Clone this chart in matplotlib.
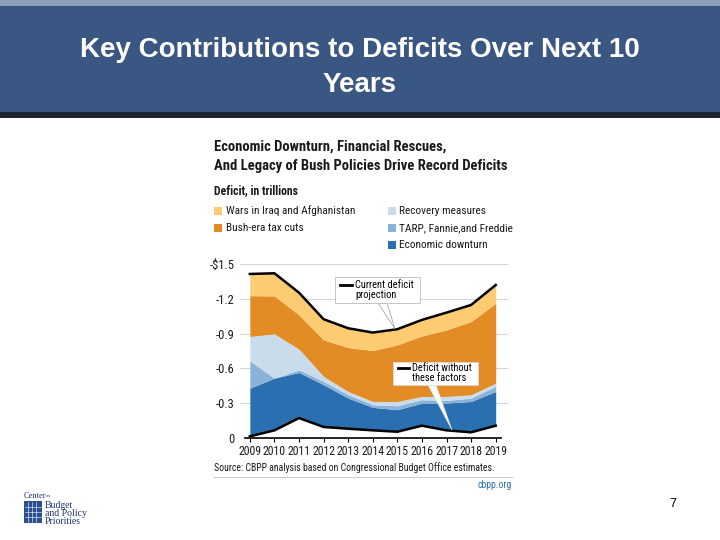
import matplotlib
matplotlib.use("Agg")
import numpy as np
from matplotlib import pyplot as plt
from matplotlib.patches import Rectangle, Polygon
from matplotlib.lines import Line2D

# deficit in trillions (shown as negative on the chart), cumulative layer edges
years = [2009, 2010, 2011, 2012, 2013, 2014, 2015, 2016, 2017, 2018, 2019]
without_factors = [0.014, 0.066, 0.172, 0.095, 0.080, 0.066, 0.054, 0.106, 0.066, 0.049, 0.106]
top_downturn = [0.430, 0.516, 0.565, 0.459, 0.344, 0.264, 0.244, 0.301, 0.301, 0.315, 0.401]
top_tarp = [0.665, 0.516, 0.588, 0.488, 0.373, 0.287, 0.278, 0.330, 0.324, 0.344, 0.445]
top_recovery = [0.875, 0.898, 0.766, 0.531, 0.401, 0.315, 0.315, 0.358, 0.358, 0.373, 0.473]
top_taxcuts = [1.227, 1.225, 1.061, 0.846, 0.780, 0.754, 0.803, 0.880, 0.932, 1.004, 1.161]
current_projection = [1.414, 1.420, 1.253, 1.024, 0.946, 0.909, 0.938, 1.018, 1.081, 1.147, 1.319]

y_ticks = [0, 0.3, 0.6, 0.9, 1.2, 1.5]
y_labels = ["0", "-0.3", "-0.6", "-0.9", "-1.2", "-$1.5"]

legend_left = ["Wars in Iraq and Afghanistan", "Bush-era tax cuts"]
legend_right = ["Recovery measures", "TARP, Fannie,and Freddie", "Economic downturn"]

c_wars = "#FDCB72"
c_tax = "#E38B25"
c_recovery = "#CADCEC"
c_tarp = "#89B3D8"
c_downturn = "#2A70B1"

NARROW = ["Roboto Condensed", "DejaVu Sans"]
W, H = 720, 540

fig = plt.figure(figsize=(7.2, 5.4), dpi=100)
fig.patch.set_facecolor("white")


def px(x, y):
    # pixel position (top-left origin) -> figure fraction
    return x / W, 1 - y / H


# header bar
fig.patches.append(Rectangle(px(0, 118), 1, 118 / H, transform=fig.transFigure,
                             facecolor="#1B2535", edgecolor="none", zorder=0))
fig.patches.append(Rectangle(px(0, 112), 1, 112 / H, transform=fig.transFigure,
                             facecolor="#3A5683", edgecolor="none", zorder=0))
fig.patches.append(Rectangle(px(0, 6), 1, 6 / H, transform=fig.transFigure,
                             facecolor="#8C9EB9", edgecolor="none", zorder=0))
fig.text(*px(360, 50), "Key Contributions to Deficits Over Next 10", color="white",
         fontsize=20, fontweight="bold", family="Liberation Sans", ha="center", va="center")
fig.text(*px(360, 85), "Years", color="white",
         fontsize=20, fontweight="bold", family="Liberation Sans", ha="center", va="center")

# chart heading and legend
fig.text(*px(214, 147), "Economic Downturn, Financial Rescues,", fontsize=10.5, fontweight="bold",
         family=NARROW, color="#1A1A1A", va="center")
fig.text(*px(214, 166), "And Legacy of Bush Policies Drive Record Deficits", fontsize=10.5,
         fontweight="bold", family=NARROW, color="#1A1A1A", va="center")
fig.text(*px(214, 191), "Deficit, in trillions", fontsize=8.5, fontweight="bold",
         family=NARROW, color="#1A1A1A", va="center")

for i, (lab, col) in enumerate(zip(legend_left, [c_wars, c_tax])):
    y = 211 + 17 * i
    fig.patches.append(Rectangle(px(214, y + 4), 8 / W, 8 / H, transform=fig.transFigure,
                                 facecolor=col, edgecolor="none"))
    fig.text(*px(226, y), lab, fontsize=8.2, family=NARROW, color="#1A1A1A", va="center")
for i, (lab, col) in enumerate(zip(legend_right, [c_recovery, c_tarp, c_downturn])):
    y = 211 + 17 * i
    fig.patches.append(Rectangle(px(388, y + 4), 8 / W, 8 / H, transform=fig.transFigure,
                                 facecolor=col, edgecolor="none"))
    fig.text(*px(399, y), lab, fontsize=8.2, family=NARROW, color="#1A1A1A", va="center")

# the chart
ax = fig.add_axes([240 / W, 1 - 438 / H, 268 / W, 174 / H])
ax.fill_between(years, without_factors, top_downturn, color=c_downturn, lw=0, zorder=2)
ax.fill_between(years, top_downturn, top_tarp, color=c_tarp, lw=0, zorder=2)
ax.fill_between(years, top_tarp, top_recovery, color=c_recovery, lw=0, zorder=2)
ax.fill_between(years, top_recovery, top_taxcuts, color=c_tax, lw=0, zorder=2)
ax.fill_between(years, top_taxcuts, current_projection, color=c_wars, lw=0, zorder=2)
ax.plot(years, current_projection, color="black", lw=1.8, zorder=3)
ax.plot(years, without_factors, color="black", lw=1.8, zorder=3)

ax.set_xlim(2008.6, 2019.5)
ax.set_ylim(0, 1.5)
ax.set_yticks(y_ticks)
ax.set_yticklabels(y_labels, family=NARROW, fontsize=9, color="#1A1A1A")
ax.set_xticks(years)
ax.set_xticklabels([str(y) for y in years], family=NARROW, fontsize=8.5, color="#1A1A1A")
ax.grid(axis="y", color="#D5D5D5", lw=0.8, zorder=0)
for s in ["left", "right", "top"]:
    ax.spines[s].set_visible(False)
ax.spines["bottom"].set_bounds(2008.8, 2019.2)
ax.spines["bottom"].set_linewidth(1.2)
ax.spines["bottom"].set_zorder(4)
ax.tick_params(axis="y", length=0, pad=4)
ax.tick_params(axis="x", length=3, width=0.8, direction="out", pad=2)
ax.set_facecolor("none")

# callout: current deficit projection
fig.patches.append(Polygon([px(378, 303), px(387, 303), px(395, 329)], closed=True,
                           transform=fig.transFigure, facecolor="white",
                           edgecolor="#AAAAAA", lw=0.6, zorder=5))
fig.patches.append(Rectangle(px(335, 303), 85 / W, 26 / H, transform=fig.transFigure,
                             facecolor="white", edgecolor="#BBBBBB", lw=0.6, zorder=6))
fig.lines.append(Line2D([340 / W, 352 / W], [1 - 285 / H] * 2, transform=fig.transFigure,
                        color="black", lw=2, zorder=7))
fig.text(*px(355, 285), "Current deficit", fontsize=7.5, family=NARROW, va="center", zorder=7)
fig.text(*px(355, 295), "projection", fontsize=7.5, family=NARROW, va="center", zorder=7)

# callout: deficit without these factors
fig.patches.append(Polygon([px(428, 385), px(436, 385), px(452, 430)], closed=True,
                           transform=fig.transFigure, facecolor="white",
                           edgecolor="#DDDDDD", lw=0.5, zorder=5))
fig.patches.append(Rectangle(px(393, 385), 85 / W, 23 / H, transform=fig.transFigure,
                             facecolor="white", edgecolor="#DDDDDD", lw=0.5, zorder=6))
fig.lines.append(Line2D([398 / W, 409 / W], [1 - 368 / H] * 2, transform=fig.transFigure,
                        color="black", lw=2, zorder=7))
fig.text(*px(412, 368), "Deficit without", fontsize=7.5, family=NARROW, va="center", zorder=7)
fig.text(*px(412, 378), "these factors", fontsize=7.5, family=NARROW, va="center", zorder=7)

# source and footer of the chart image
fig.text(*px(214, 468), "Source: CBPP analysis based on Congressional Budget Office estimates.",
         fontsize=7, family=NARROW, color="#1A1A1A", va="center")
fig.lines.append(Line2D([214 / W, 512 / W], [1 - 477 / H] * 2, transform=fig.transFigure,
                        color="#CCCCCC", lw=0.8))
fig.text(*px(512, 485), "cbpp.org", fontsize=7, family=NARROW, color="#2F6DB0",
         ha="right", va="center")

# logo, bottom left
fig.patches.append(Rectangle(px(24, 523), 18 / W, 22 / H, transform=fig.transFigure,
                             facecolor="#2A4E8F", edgecolor="none"))
for gx in [28, 32, 36]:
    fig.lines.append(Line2D([gx / W] * 2, [1 - 522 / H, 1 - 502 / H], transform=fig.transFigure,
                            color="white", lw=0.4))
for gy in [507, 512, 517]:
    fig.lines.append(Line2D([25 / W, 41 / W], [1 - gy / H] * 2, transform=fig.transFigure,
                            color="white", lw=0.4))
fig.text(*px(24, 496), "Center", fontsize=6, family="Liberation Serif", color="#1F3570", va="center")
fig.text(*px(46, 496), "on", fontsize=3.5, family="Liberation Serif", color="#1F3570", va="center")
fig.text(*px(45, 505), "Budget", fontsize=7, family="Liberation Serif", color="#1F3570", va="center")
fig.text(*px(45, 514), "and Policy", fontsize=7, family="Liberation Serif", color="#1F3570", va="center")
fig.text(*px(45, 522), "Priorities", fontsize=7, family="Liberation Serif", color="#1F3570", va="center")

# page number
fig.text(*px(673, 504), "7", fontsize=9, family="Liberation Sans", color="black",
         ha="center", va="center")

fig.savefig("out.png", dpi=100)
